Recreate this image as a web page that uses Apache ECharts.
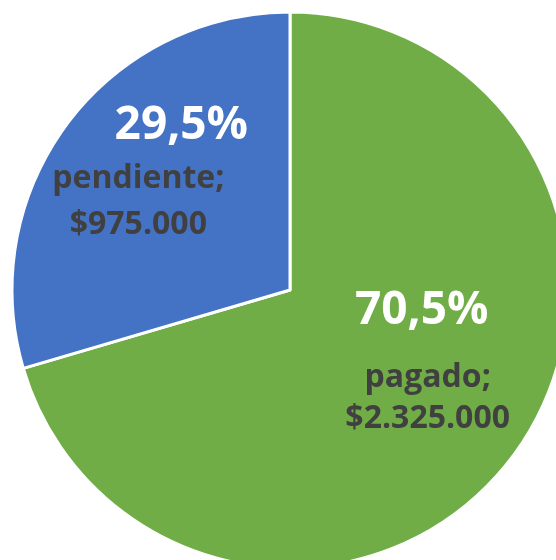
<!DOCTYPE html>
<html>
<head>
<meta charset="utf-8">
<script src="https://cdn.jsdelivr.net/npm/echarts@6/dist/echarts.min.js"></script>
<style>
html, body { margin: 0; padding: 0; background: #fff; }
#chart { width: 556px; height: 560px; }
</style>
</head>
<body>
<div id="chart"></div>
<script>
// datos del gráfico
var categories = ["pagado", "pendiente"];
var values = [2325000, 975000];
var colors = ["#70AD47", "#4472C4"];

var total = 0;
for (var k = 0; k < values.length; k++) total += values[k];

function fmtMoney(v) {
    return "$" + String(v).replace(/\B(?=(\d{3})+(?!\d))/g, ".");
}
function fmtPct(v) {
    // como Excel: redondeo directo a 1 decimal
    return (Math.round(v / total * 1000) / 10).toFixed(1).replace(".", ",") + "%";
}

var labelFont = "Open Sans";
// ajustes de etiqueta por porción
var labelCfg = [
    { offset: [24, -23], pPad: [0, 12, 0, 0], pLine: 93, nLine: 41 },
    { offset: [-38, -33], pPad: [0, 0, 0, 86], pLine: 60, nLine: 46 }
];

var chartData = [];
for (var i = 0; i < categories.length; i++) {
    chartData.push({
        name: categories[i],
        value: values[i],
        itemStyle: { color: colors[i] },
        label: {
            offset: labelCfg[i].offset,
            rich: {
                p: {
                    fontFamily: labelFont, fontWeight: "bold", fontSize: 46,
                    color: "#ffffff", lineHeight: labelCfg[i].pLine,
                    padding: labelCfg[i].pPad
                },
                n: {
                    fontFamily: labelFont, fontWeight: "bold", fontSize: 32,
                    color: "#404040", lineHeight: labelCfg[i].nLine
                }
            }
        }
    });
}

var chart = echarts.init(document.getElementById("chart"));
chart.setOption({
    animation: false,
    series: [{
        type: "pie",
        center: [290, 290],
        radius: 278,
        startAngle: 90,
        clockwise: true,
        avoidLabelOverlap: false,
        itemStyle: { borderColor: "#ffffff", borderWidth: 3 },
        label: {
            show: true,
            position: "inside",
            formatter: function (params) {
                return "{p|" + fmtPct(params.value) + "}\n{n|" + params.name + ";}\n{n|" + fmtMoney(params.value) + "}";
            }
        },
        labelLine: { show: false },
        emphasis: { disabled: true },
        data: chartData
    }]
});
</script>
</body>
</html>
